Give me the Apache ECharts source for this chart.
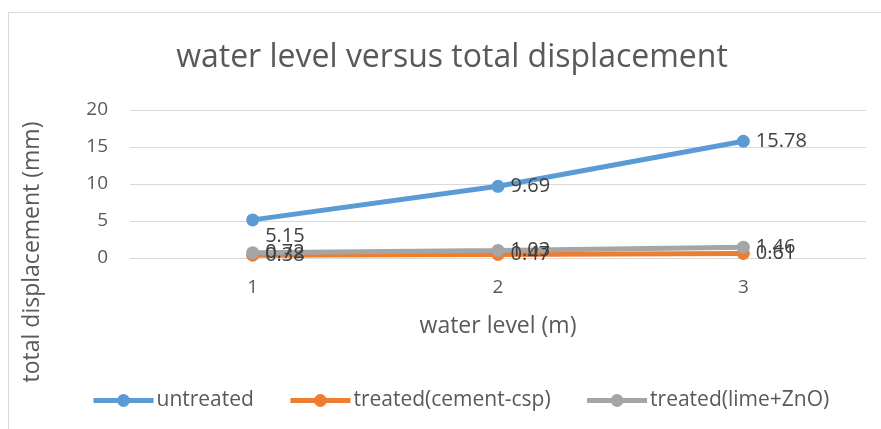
<!DOCTYPE html>
<html>
<head>
<meta charset="utf-8">
<script src="https://cdn.jsdelivr.net/npm/echarts@6/dist/echarts.min.js"></script>
<style>
  html, body { margin: 0; padding: 0; background: #fff; }
  #frame { position: absolute; left: 8px; top: 12px; width: 873px; height: 417px;
           border-left: 1px solid #d9d9d9; border-top: 1px solid #d9d9d9; }
  #main { position: absolute; left: 0; top: 0; width: 881px; height: 429px; }
</style>
</head>
<body>
<div id="frame"></div>
<div id="main"></div>
<script>
var levels = ['1', '2', '3'];
var untreated = [5.15, 9.69, 15.78];
var cementCsp = [0.38, 0.47, 0.61];
var limeZnO = [0.72, 1.03, 1.46];

var fontFam = '"Open Sans", "Noto Sans", sans-serif';
var textCol = '#595959';

function makeSeries(name, data, color) {
	return {
		name: name,
		type: 'line',
		data: data,
		symbol: 'circle',
		symbolSize: 13,
		lineStyle: { width: 5, color: color },
		itemStyle: { color: color },
		label: {
			show: true,
			position: 'right',
			distance: 6,
			color: '#404040',
			fontSize: 20,
			fontFamily: fontFam
		}
	};
}

var blue = makeSeries('untreated', untreated, '#5b9bd5');
// first label sits a bit lower in the original
blue.data = untreated.map(function (v, i) {
	return i === 0 ? { value: v, label: { offset: [0, 16] } } : v;
});

var myChart = echarts.init(document.getElementById('main'));
var option = {
	animation: false,
	title: {
		text: 'water level versus total displacement',
		left: 447,
		textAlign: 'center',
		top: 37,
		textStyle: { fontSize: 32, fontWeight: 'normal', color: textCol, fontFamily: fontFam }
	},
	grid: { left: 130, right: 15, top: 110, bottom: 171 },
	legend: {
		bottom: 13,
		left: 86,
		itemWidth: 60,
		itemHeight: 16,
		itemGap: 34,
		lineStyle: { width: 5 },
		textStyle: { fontSize: 21, color: textCol, fontFamily: fontFam, padding: [0, 0, 0, -2] },
		data: ['untreated', 'treated(cement-csp)', 'treated(lime+ZnO)']
	},
	graphic: [{
		type: 'text',
		x: 21,
		y: 252,
		rotation: Math.PI / 2,
		style: {
			text: 'total displacement (mm)',
			fontSize: 23,
			fontFamily: fontFam,
			fill: textCol,
			align: 'center',
			verticalAlign: 'top'
		}
	}],
	xAxis: {
		type: 'category',
		data: levels,
		boundaryGap: true,
		name: 'water level (m)',
		nameLocation: 'middle',
		nameGap: 57,
		nameTextStyle: { fontSize: 23, color: textCol, fontFamily: fontFam },
		axisLine: { lineStyle: { color: '#d9d9d9', width: 1 } },
		axisTick: { show: false },
		axisLabel: { fontSize: 19, color: textCol, fontFamily: fontFam, margin: 20 }
	},
	yAxis: {
		type: 'value',
		min: 0,
		max: 20,
		interval: 5,
		axisLine: { show: false },
		axisTick: { show: false },
		splitLine: { lineStyle: { color: '#d9d9d9', width: 1 } },
		axisLabel: { fontSize: 19, color: textCol, fontFamily: fontFam, margin: 22 }
	},
	series: [
		blue,
		makeSeries('treated(cement-csp)', cementCsp, '#ed7d31'),
		makeSeries('treated(lime+ZnO)', limeZnO, '#a5a5a5')
	]
};
myChart.setOption(option);
</script>
</body>
</html>
